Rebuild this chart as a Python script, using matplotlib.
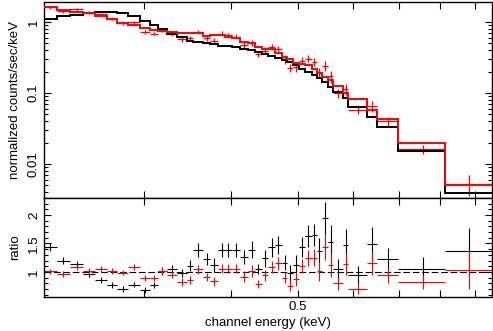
import numpy as np
import matplotlib
matplotlib.use('Agg')
import matplotlib.pyplot as plt
from matplotlib.ticker import FixedLocator, NullFormatter, FixedFormatter

plt.rcParams['font.family'] = ['Liberation Sans', 'DejaVu Sans']

# bin edges (keV)
edges = [0.2152, 0.2245, 0.2346, 0.2452, 0.2549, 0.2650, 0.2739, 0.2847, 0.2959,
         0.3059, 0.3144, 0.3233, 0.3342, 0.3455, 0.3531, 0.3650, 0.3732, 0.3837,
         0.3923, 0.4011, 0.4124, 0.4240, 0.4335, 0.4432, 0.4531, 0.4633, 0.4737,
         0.4825, 0.4922, 0.5022, 0.5117, 0.5232, 0.5320, 0.5409, 0.5529, 0.5621,
         0.5811, 0.5908, 0.6296, 0.6498, 0.6974, 0.8144, 0.9518]

# folded models (normalized counts/sec/keV)
black_model = [1.102, 1.215, 1.275, 1.339, 1.397, 1.397, 1.326, 1.227, 1.043, 0.907,
               0.789, 0.671, 0.609, 0.545, 0.528, 0.501, 0.485, 0.459, 0.452, 0.438,
               0.417, 0.403, 0.374, 0.351, 0.332, 0.311, 0.292, 0.273, 0.252, 0.221,
               0.198, 0.179, 0.165, 0.143, 0.1215, 0.1033, 0.0851, 0.0641, 0.0464,
               0.0335, 0.0154, 0.00387]
red_model = [1.611, 1.476, 1.397, 1.326, 1.227, 1.091, 0.978, 0.907, 0.815, 0.772,
             0.754, 0.723, 0.693, 0.693, 0.693, 0.641, 0.646, 0.646, 0.615, 0.586,
             0.518, 0.501, 0.449, 0.421, 0.413, 0.362, 0.3246, 0.298, 0.262, 0.260,
             0.2455, 0.219, 0.193, 0.1697, 0.1525, 0.1255, 0.100, 0.0823, 0.0576,
             0.0426, 0.01995, 0.00506]

# data / model ratios
black_ratio = [1.44, 1.20, 1.14, 0.965, 0.86, 0.77, 0.70, 0.78, 0.68, 0.77,
               1.01, 1.05, 0.99, 1.11, 1.39, 1.23, 1.12, 1.39, 1.39, 1.39,
               1.26, 1.39, 1.05, 1.24, 1.43, 1.48, 1.16, 0.98, 1.12, 1.44,
               1.63, 1.65, 1.36, 1.94, 1.53, 1.05, 1.47, 0.94, 1.49, 1.22,
               1.06, 1.36]
black_ratio_err = [0.07, 0.06, 0.06, 0.05, 0.05, 0.05, 0.05, 0.05, 0.05, 0.05,
                   0.07, 0.07, 0.07, 0.10, 0.12, 0.10, 0.12, 0.12, 0.12, 0.12,
                   0.12, 0.15, 0.09, 0.15, 0.16, 0.16, 0.13, 0.15, 0.17, 0.17,
                   0.19, 0.20, 0.23, 0.29, 0.29, 0.17, 0.29, 0.16, 0.30, 0.20,
                   0.20, 0.41]
red_ratio = [1.01, 0.965, 1.08, 1.02, 1.05, 1.02, 0.99, 1.09, 0.89, 0.89,
             1.02, 0.95, 0.82, 0.86, 1.05, 0.92, 0.84, 1.06, 1.06, 1.06,
             0.92, 1.02, 0.79, 0.94, 1.09, 1.15, 0.90, 0.76, 0.88, 1.10,
             1.24, 1.25, 1.01, 1.43, 1.12, 0.80, 1.14, 0.71, 1.15, 0.95,
             0.82, 1.04]
red_ratio_err = [0.05, 0.05, 0.05, 0.05, 0.05, 0.05, 0.05, 0.05, 0.05, 0.05,
                 0.06, 0.06, 0.07, 0.07, 0.08, 0.07, 0.08, 0.08, 0.08, 0.08,
                 0.09, 0.10, 0.07, 0.10, 0.11, 0.12, 0.10, 0.10, 0.12, 0.12,
                 0.14, 0.15, 0.16, 0.22, 0.20, 0.12, 0.20, 0.10, 0.20, 0.14,
                 0.12, 0.33]

edges_a = np.array(edges)
lo, hi = edges_a[:-1], edges_a[1:]
cen = 0.5 * (lo + hi)
xerr = [cen - lo, hi - cen]

W, H = 493, 331
fig = plt.figure(figsize=(W / 100, H / 100), dpi=100)
left, right = 44 / W, 492 / W
ax1 = fig.add_axes([left, 1 - 198 / H, right - left, 196 / H])
ax2 = fig.add_axes([left, 1 - 297 / H, right - left, 99 / H], sharex=ax1)

RED = '#ff0000'

# the same spectrum is shown against both models: data = model * ratio
rm = np.array(red_model)
data = rm * np.array(red_ratio)
data_err = rm * np.array(red_ratio_err)

ax1.errorbar(cen, data, xerr=xerr, yerr=data_err, fmt='none', ecolor=RED,
             elinewidth=0.9, capsize=0, zorder=3)
ax1.stairs(np.array(black_model), edges_a, baseline=None, color='black', lw=1.4, zorder=4)
ax1.stairs(rm, edges_a, baseline=None, color=RED, lw=1.4, zorder=5)

for col, ratio, rerr in [('black', black_ratio, black_ratio_err),
                         (RED, red_ratio, red_ratio_err)]:
    ax2.errorbar(cen, ratio, xerr=xerr, yerr=rerr, fmt='none', ecolor=col,
                 elinewidth=0.8, capsize=0)

ax2.axhline(1.0, color='black', lw=0.8, dashes=(6, 2.5), zorder=0)

for ax in (ax1, ax2):
    ax.set_xscale('log')
    ax.set_xlim(edges[0], edges[-1])
    ax.xaxis.set_major_locator(FixedLocator([0.5]))
    ax.xaxis.set_minor_locator(FixedLocator([0.3, 0.4, 0.6, 0.7, 0.8, 0.9]))
    ax.xaxis.set_minor_formatter(NullFormatter())
    ax.tick_params(which='both', direction='in', top=True, right=True,
                   width=0.8, labelsize=9.5, pad=3)
    ax.tick_params(which='major', length=5)
    ax.tick_params(which='minor', length=3)
    ax.tick_params(axis='x', which='minor', length=5)
    for s in ax.spines.values():
        s.set_linewidth(1.0)

ax1.set_yscale('log')
ax1.set_ylim(0.00332, 1.913)
ax1.yaxis.set_major_locator(FixedLocator([0.01, 0.1, 1]))
ax1.yaxis.set_major_formatter(FixedFormatter(['0.01', '0.1', '1']))
ax1.yaxis.set_minor_locator(FixedLocator(
    [k * 10.0 ** d for d in (-3, -2, -1, 0) for k in range(2, 10)]))
ax1.yaxis.set_minor_formatter(NullFormatter())
ax1.tick_params(axis='x', labelbottom=False)
ax1.set_ylabel('normalized counts/sec/keV', fontsize=9.5, labelpad=5)

ax2.set_ylim(0.561, 2.298)
ax2.yaxis.set_major_locator(FixedLocator([1, 1.5, 2]))
ax2.yaxis.set_major_formatter(FixedFormatter(['1', '1.5', '2']))
ax2.yaxis.set_minor_locator(FixedLocator(np.arange(0.6, 2.31, 0.1)))
ax2.yaxis.set_minor_formatter(NullFormatter())
ax2.xaxis.set_major_formatter(FixedFormatter(['0.5']))
ax2.set_ylabel('ratio', fontsize=9.5, labelpad=5)
ax2.set_xlabel('channel energy (keV)', fontsize=9.5, labelpad=3)

for ax in (ax1, ax2):
    for lab in ax.get_yticklabels():
        lab.set_rotation(90)
        lab.set_va('center')

fig.savefig('out.png', dpi=100)
